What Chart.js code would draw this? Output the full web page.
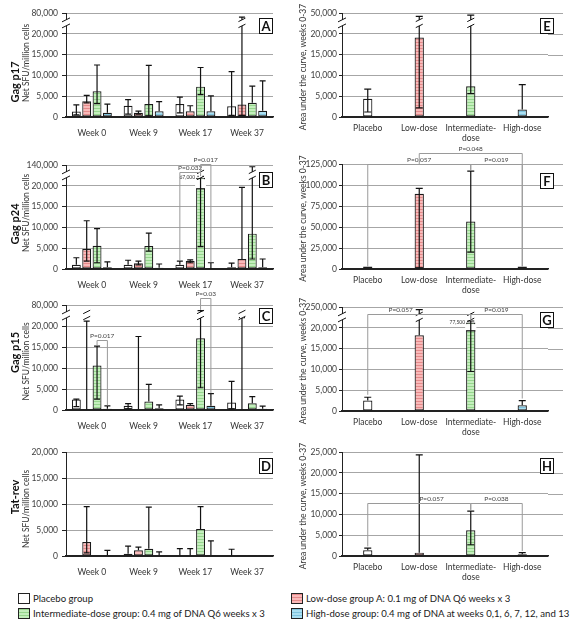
<!DOCTYPE html>
<html>
<head>
<meta charset="utf-8">
<script src="https://cdn.jsdelivr.net/npm/chart.js@4"></script>
<style>
body { margin: 0; background: #fff; width: 579px; height: 624px; position: relative; overflow: hidden; font-family: Lato, sans-serif; }
canvas { position: absolute; }
.leg { position: absolute; font-size: 9.6px; color: #1a1a1a; display: flex; align-items: center; white-space: nowrap; height: 13px; }
.leg i { display: inline-block; width: 12px; height: 11px; border: 1px solid #222; margin-right: 3px; box-sizing: border-box; }
.leg i.r { background: repeating-linear-gradient(#e58a8a 0 1px, #f9b9b9 1px 3px); }
.leg i.g { background: repeating-linear-gradient(#96d68d 0 1px, #c4efbd 1px 3px); }
.leg i.c { background: repeating-linear-gradient(#7fc4de 0 1px, #aadff2 1px 3px); }
</style>
</head>
<body>
<div class="leg" style="left:18px;top:592px"><i></i>Placebo group</div>
<div class="leg" style="left:18px;top:607px"><i class="g"></i>Intermediate-dose group: 0.4 mg of DNA Q6 weeks x 3</div>
<div class="leg" style="left:291px;top:592px"><i class="r"></i>Low-dose group A: 0.1 mg of DNA Q6 weeks x 3</div>
<div class="leg" style="left:291px;top:607px"><i class="c"></i>High-dose group: 0.4 mg of DNA at weeks 0,1, 6, 7, 12, and 13</div>
<script>
const weeks = ['Week 0', 'Week 9', 'Week 17', 'Week 37']
const groups = ['Placebo', 'Low-dose', ['Intermediate-', 'dose'], 'High-dose']

// Gag p17 (A), values per week, error = [low, high]
const p17Placebo = [1300, 2700, 3100, 2600]
const p17PlaceboErr = [[500, 2900], [700, 4200], [1000, 4800], [400, 10900]]
const p17Low = [3800, 1000, 1400, 3000]
const p17LowErr = [[3400, 5200], [700, 1400], [1400, 2700], [400, 68000]]
const p17Inter = [6200, 3100, 7300, 3400]
const p17InterErr = [[3200, 12500], [300, 12400], [5400, 11900], [3400, 7400]]
const p17High = [1000, 1400, 1400, 1500]
const p17HighErr = [[1000, 3100], [1400, 3700], [1400, 5100], [1500, 8700]]

// Gag p24 (B)
const p24Placebo = [1000, 1000, 1000, 400]
const p24PlaceboErr = [[1000, 2700], [1000, 2100], [1000, 1900], [400, 1400]]
const p24Low = [4800, 1400, 1900, 2400]
const p24LowErr = [[1900, 11600], [1000, 1900], [1500, 2200], [2400, 19600]]
const p24Inter = [5600, 5500, 67000, 8500]
const p24InterErr = [[1500, 9700], [4300, 8600], [5400, 74000], [2400, 130000]]
const p24High = [400, 300, 50, 400]
const p24HighErr = [[400, 1700], [300, 1200], [50, 1500], [400, 2400]]

// Gag p15 (C)
const p15Placebo = [2500, 1000, 2500, 1800]
const p15PlaceboErr = [[800, 2600], [300, 1500], [1200, 3300], [300, 6800]]
const p15Low = [200, 200, 1200, 200]
const p15LowErr = [[200, 34000], [200, 17500], [1200, 1500], [200, 44000]]
const p15Inter = [10600, 2000, 17100, 1600]
const p15InterErr = [[2600, 15200], [2000, 6100], [5300, 64000], [1600, 3200]]
const p15High = [300, 400, 1000, 300]
const p15HighErr = [[300, 1000], [400, 1200], [1000, 3900], [300, 900]]

// Tat-rev (D)
const tatPlacebo = [150, 450, 80, 80]
const tatPlaceboErr = [[150, 150], [450, 1900], [80, 1400], [80, 1300]]
const tatLow = [2700, 1100, 80, 200]
const tatLowErr = [[600, 9500], [1100, 1700], [80, 1400], [200, 200]]
const tatInter = [150, 1400, 5200, 200]
const tatInterErr = [[150, 150], [1400, 9400], [5200, 9500], [200, 200]]
const tatHigh = [150, 100, 200, 200]
const tatHighErr = [[150, 1100], [100, 800], [200, 2900], [200, 200]]

// area under the curve, weeks 0-37 (E-H), per dose group
const aucP17 = [4400, 19100, 7400, 1800]
const aucP17Err = [[1200, 6700], [2200, 45000], [5600, 47000], [1800, 7800]]
const aucP24 = [3000, 89500, 56500, 3000]
const aucP24Err = [[3000, 3000], [1500, 96000], [20000, 116500], [3000, 3000]]
const aucP15 = [2500, 18200, 77500, 1400]
const aucP15Err = [[2500, 3300], [18200, 220000], [9500, 95000], [1400, 2500]]
const aucTat = [1400, 800, 6200, 400]
const aucTatErr = [[1400, 1900], [800, 24300], [2700, 10800], [400, 800]]

Chart.defaults.font.family = 'Lato'
Chart.defaults.color = '#404040'

const fmt = v => v.toLocaleString('en-US')

function stripes(base, line) {
    const c = document.createElement('canvas')
    c.width = 4; c.height = 3
    const g = c.getContext('2d')
    g.fillStyle = base; g.fillRect(0, 0, 4, 3)
    g.fillStyle = line; g.fillRect(0, 0, 4, 1)
    return g.createPattern(c, 'repeat')
}
const fills = ['#ffffff', stripes('#f9b9b9', '#e58a8a'), stripes('#c4efbd', '#96d68d'), stripes('#aadff2', '#7fc4de')]

function brokenAxis(brk, top, step) {
    if (!brk) return v => v
    return v => v <= brk ? v : brk + (v - brk) / (top - brk) * step
}

function breakMark(ctx, x, y1, y2, hw) {
    ctx.fillStyle = '#fff'
    ctx.fillRect(x - 2, y2, 4, y1 - y2)
    ctx.strokeStyle = '#111'
    ctx.lineWidth = 1
    for (const yy of [y1, y2]) {
        ctx.beginPath()
        ctx.moveTo(x - hw, yy + hw * 0.5)
        ctx.lineTo(x + hw, yy - hw * 0.5)
        ctx.stroke()
    }
}

const panels = [
    { id: 'A', x: 0, y: 0, w: 290, h: 140, area: [13, 117, 66, 273], brk: 20000, top: 80000, step: 5000, boxDy: 5,
      title: ['Gag p17', 'Net SFU/million cells'], shift: [17, -2],
      series: [p17Placebo, p17Low, p17Inter, p17High], errs: [p17PlaceboErr, p17LowErr, p17InterErr, p17HighErr] },
    { id: 'B', x: 0, y: 140, w: 290, h: 150, area: [25, 129, 66, 273], brk: 20000, top: 140000, step: 5000, boxDy: 7,
      title: ['Gag p24', 'Net SFU/million cells'], shift: [7, -4],
      series: [p24Placebo, p24Low, p24Inter, p24High], errs: [p24PlaceboErr, p24LowErr, p24InterErr, p24HighErr],
      brackets: [
          { from: [0, 2], to: [2, 2], level: 102000, ends: [2100, 76000], text: 'P=0.032' },
          { from: [2, 2], to: [3, 2], level: 146000, ends: [76000, 1700], text: 'P=0.017' }
      ] },
    { id: 'C', x: 0, y: 290, w: 290, h: 150, area: [15, 120, 66, 273], brk: 20000, top: 80000, step: 5000, boxDy: 3,
      title: ['Gag p15', 'Net SFU/million cells'], shift: [-5, 4],
      series: [p15Placebo, p15Low, p15Inter, p15High], errs: [p15PlaceboErr, p15LowErr, p15InterErr, p15HighErr],
      brackets: [
          { from: [2, 0], to: [3, 0], level: 16700, ends: [15400, 1100], text: 'P=0.017' },
          { from: [2, 2], to: [3, 2], level: 100000, ends: [66000, 4000], text: 'P=0.03' }
      ] },
    { id: 'D', x: 0, y: 440, w: 290, h: 140, area: [12, 116, 66, 273], top: 20000, step: 5000, boxDy: 6,
      title: ['Tat-rev', 'Net SFU/million cells'], shift: [-7, 5],
      series: [tatPlacebo, tatLow, tatInter, tatHigh], errs: [tatPlaceboErr, tatLowErr, tatInterErr, tatHighErr] },
    { id: 'E', x: 290, y: 0, w: 289, h: 150, area: [13, 117, 52, 258], brk: 20000, top: 50000, step: 5000, boxDy: 5,
      series: [aucP17], errs: [aucP17Err] },
    { id: 'F', x: 290, y: 140, w: 289, h: 160, area: [24, 129, 52, 258], top: 125000, step: 25000, boxDy: 9,
      series: [aucP24], errs: [aucP24Err],
      brackets: [
          { from: [0, 0], to: [0, 2], level: 125000, ends: [3000, 118000], text: 'P=0.057' },
          { from: [0, 2], to: [0, 3], level: 125000, ends: [118000, 3000], text: 'P=0.019' },
          { from: [0, 1], to: [0, 3], level: 138000, ends: [125000, 3000], text: 'P=0.048' }
      ] },
    { id: 'G', x: 290, y: 290, w: 289, h: 150, area: [17, 121, 52, 258], brk: 20000, top: 250000, step: 5000, boxDy: 5,
      series: [aucP15], errs: [aucP15Err],
      brackets: [
          { from: [0, 0], to: [0, 2], level: 173000, ends: [3900, 106000], text: 'P=0.057', at: 0.32 },
          { from: [0, 2], to: [0, 3], level: 173000, ends: [106000, 3000], text: 'P=0.019' }
      ] },
    { id: 'H', x: 290, y: 440, w: 289, h: 150, area: [12, 116, 52, 258], top: 25000, step: 5000, boxDy: 6,
      series: [aucTat], errs: [aucTatErr],
      brackets: [
          { from: [0, 0], to: [0, 2], level: 12700, ends: [2300, 11100], text: 'P=0.057', at: 0.62 },
          { from: [0, 2], to: [0, 3], level: 12700, ends: [11100, 1200], text: 'P=0.038' }
      ] }
]

function panelPlugin(p, tr, grouped) {
    return {
        id: 'panel' + p.id,
        beforeDatasetsDraw(chart) {
            if (grouped) return
            const ctx = chart.ctx, a = chart.chartArea, y = chart.scales.y
            ctx.save()
            ctx.strokeStyle = '#a6a6a6'
            ctx.lineWidth = 1
            y.ticks.forEach(t => {
                if (t.value === 0) return
                const py = Math.round(y.getPixelForValue(t.value)) + 0.5
                ctx.beginPath(); ctx.moveTo(a.right, py); ctx.lineTo(a.right + 15, py); ctx.stroke()
            })
            ctx.restore()
        },
        afterDatasetsDraw(chart) {
            const ctx = chart.ctx, a = chart.chartArea, y = chart.scales.y
            const cap = grouped ? 3 : 3.5
            ctx.save()
            chart.data.datasets.forEach((ds, i) => {
                chart.getDatasetMeta(i).data.forEach((bar, j) => {
                    const v = ds.raw[j]
                    if (p.brk && v > p.brk) {
                        const w = bar.width
                        const yCut = y.getPixelForValue(p.brk) + 3
                        ctx.fillStyle = '#fff'
                        ctx.fillRect(bar.x - w / 2 - 1, bar.y + 1.5, w + 2, yCut - bar.y - 1.5)
                        ctx.strokeStyle = '#111'; ctx.lineWidth = 1.2
                        ctx.beginPath(); ctx.moveTo(bar.x - w / 2, yCut); ctx.lineTo(bar.x + w / 2, yCut); ctx.stroke()
                        ctx.font = '5px Lato'; ctx.fillStyle = '#333'
                        ctx.textAlign = 'right'; ctx.textBaseline = 'middle'
                        ctx.fillText(fmt(v), bar.x - w / 2 - 1, bar.y)
                    }
                    const [lo, hi] = ds.err[j]
                    const yl = y.getPixelForValue(tr(lo)), yh = y.getPixelForValue(tr(hi))
                    ctx.strokeStyle = '#111'; ctx.lineWidth = 1.2
                    ctx.beginPath(); ctx.moveTo(bar.x, yl); ctx.lineTo(bar.x, yh)
                    if (hi > v) { ctx.moveTo(bar.x - cap, yh); ctx.lineTo(bar.x + cap, yh) }
                    if (lo < v) { ctx.moveTo(bar.x - cap, yl); ctx.lineTo(bar.x + cap, yl) }
                    ctx.stroke()
                    if (p.brk && hi > p.brk) {
                        breakMark(ctx, bar.x, y.getPixelForValue(p.brk + 0.38 * p.step), y.getPixelForValue(p.brk + 0.67 * p.step), 3.5)
                    }
                })
            })
            ;(p.brackets || []).forEach(b => {
                const xa = chart.getDatasetMeta(b.from[0]).data[b.from[1]].x
                const xb = chart.getDatasetMeta(b.to[0]).data[b.to[1]].x
                const yl = Math.round(y.getPixelForValue(tr(b.level))) + 0.5
                const ya = y.getPixelForValue(tr(b.ends[0])), yb = y.getPixelForValue(tr(b.ends[1]))
                ctx.strokeStyle = '#9a9a9a'; ctx.lineWidth = 1
                ctx.beginPath()
                ctx.moveTo(xa, ya); ctx.lineTo(xa, yl); ctx.lineTo(xb, yl); ctx.lineTo(xb, yb)
                ctx.stroke()
                ctx.font = '6.5px Lato'; ctx.fillStyle = '#444'
                ctx.textAlign = 'center'; ctx.textBaseline = 'bottom'
                ctx.fillText(b.text, xa + (xb - xa) * (b.at || 0.5), yl - 1)
            })
            if (p.brk) {
                breakMark(ctx, a.left, y.getPixelForValue(p.brk + 0.38 * p.step), y.getPixelForValue(p.brk + 0.67 * p.step), 4)
            }
            ctx.restore()
        },
        afterDraw(chart) {
            const ctx = chart.ctx, a = chart.chartArea
            ctx.save()
            // panel letter
            const bw = 13, bh = 15
            const bx = (grouped ? a.right - 1 : a.right + 5) - bw, by = a.top + p.boxDy
            ctx.fillStyle = '#fff'; ctx.fillRect(bx, by, bw, bh)
            ctx.strokeStyle = '#111'; ctx.lineWidth = 1
            ctx.strokeRect(bx + 0.5, by + 0.5, bw, bh)
            ctx.fillStyle = '#111'; ctx.font = 'bold 13px Lato'
            ctx.textAlign = 'center'; ctx.textBaseline = 'middle'
            ctx.fillText(p.id, bx + bw / 2 + 0.5, by + bh / 2 + 1)
            // axis titles
            const cy = (a.top + a.bottom) / 2
            const drawRot = (txt, x, yy, font, color) => {
                ctx.save(); ctx.translate(x, yy); ctx.rotate(-Math.PI / 2)
                ctx.font = font; ctx.fillStyle = color
                ctx.fillText(txt, 0, 0); ctx.restore()
            }
            if (grouped) {
                drawRot(p.title[0], 15, cy + p.shift[0], 'bold 11px Lato', '#111')
                drawRot(p.title[1], 26, cy + p.shift[1], '8.5px Lato', '#333')
            } else {
                drawRot('Area under the curve, weeks 0-37', 13, cy + 2, '8.5px Lato', '#333')
            }
            ctx.restore()
        }
    }
}

function buildPanel(p) {
    const cv = document.createElement('canvas')
    cv.width = p.w; cv.height = p.h
    cv.style.left = p.x + 'px'; cv.style.top = p.y + 'px'
    document.body.appendChild(cv)

    const grouped = p.series.length > 1
    const tr = brokenAxis(p.brk, p.top, p.step)
    const [aTop, aBottom, aLeft, aRight] = p.area

    const datasets = p.series.map((vals, i) => ({
        data: vals.map(tr),
        raw: vals,
        err: p.errs[i],
        backgroundColor: grouped ? fills[i] : fills,
        borderColor: '#1a1a1a',
        borderWidth: 1.2,
        borderSkipped: false,
        categoryPercentage: grouped ? 0.8 : 0.2,
        barPercentage: grouped ? 0.86 : 0.9
    }))

    return new Chart(cv, {
        type: 'bar',
        data: { labels: grouped ? weeks : groups, datasets: datasets },
        options: {
            responsive: false,
            animation: false,
            devicePixelRatio: 1,
            layout: { padding: { top: aTop, right: p.w - aRight, left: 0, bottom: 0 } },
            plugins: { legend: { display: false }, tooltip: { enabled: false } },
            scales: {
                x: {
                    grid: { display: false, drawTicks: false },
                    border: { color: '#222', width: 1.5 },
                    ticks: { font: { size: 8.5 }, color: '#333', padding: grouped ? 11 : 6, maxRotation: 0, autoSkip: false },
                    afterFit: s => { s.height = p.h - aBottom }
                },
                y: {
                    min: 0,
                    max: p.brk ? p.brk + p.step : p.top,
                    ticks: {
                        stepSize: p.step,
                        font: { size: 8.5 },
                        color: '#404040',
                        padding: grouped ? 4 : 2,
                        callback: v => (p.brk && v > p.brk) ? fmt(p.top) : fmt(v)
                    },
                    grid: {
                        color: c => c.tick && c.tick.value === 0 ? '#222' : '#a6a6a6',
                        tickColor: '#222',
                        tickLength: grouped ? 4 : 3,
                        lineWidth: 1
                    },
                    border: { color: '#222', width: 1 },
                    afterFit: s => { s.width = aLeft }
                }
            }
        },
        plugins: [panelPlugin(p, tr, grouped)]
    })
}

panels.forEach(buildPanel)
</script>
</body>
</html>
